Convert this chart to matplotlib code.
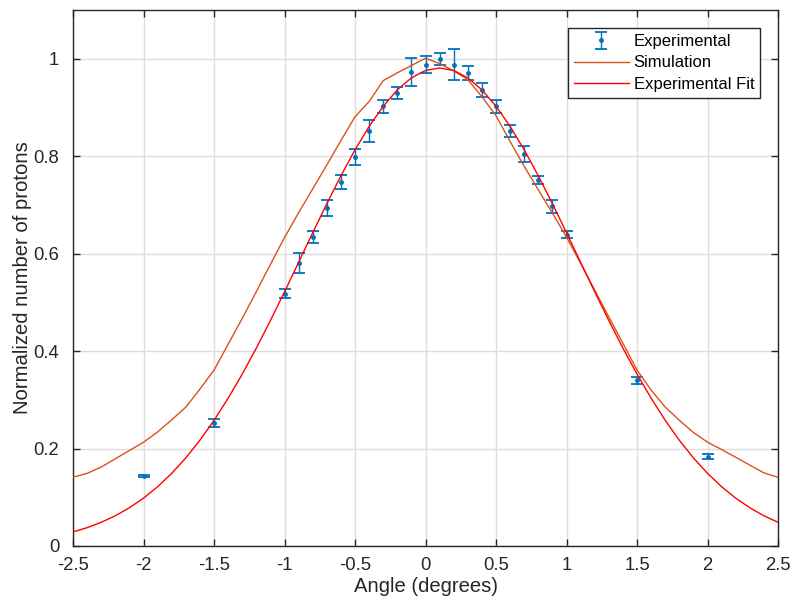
import numpy as np
import matplotlib
matplotlib.use("Agg")
import matplotlib.pyplot as plt

plt.rcParams["font.family"] = ["Liberation Sans", "DejaVu Sans"]
plt.rcParams["axes.unicode_minus"] = False

# Measured proton counts (normalized) with uncertainties
exp_angle = [-2.0, -1.5, -1.0, -0.9, -0.8, -0.7, -0.6, -0.5, -0.4, -0.3, -0.2, -0.1,
             0.0, 0.1, 0.2, 0.3, 0.4, 0.5, 0.6, 0.7, 0.8, 0.9, 1.0, 1.5, 2.0]
exp_counts = [0.143, 0.252, 0.518, 0.581, 0.634, 0.693, 0.747, 0.798, 0.852, 0.902,
              0.930, 0.972, 0.988, 1.000, 0.988, 0.971, 0.936, 0.902, 0.852, 0.804,
              0.751, 0.697, 0.639, 0.340, 0.183]
exp_error = [0.002, 0.008, 0.010, 0.021, 0.012, 0.016, 0.015, 0.017, 0.022, 0.014,
             0.012, 0.029, 0.017, 0.012, 0.032, 0.015, 0.014, 0.013, 0.012, 0.016,
             0.008, 0.013, 0.0075, 0.007, 0.005]

# Angle grid shared by the simulation and the fitted curve
curve_angle = np.linspace(-2.5, 2.5, 51)

sim_counts = [0.141, 0.149, 0.162, 0.179, 0.196, 0.213, 0.234, 0.259, 0.285, 0.322,
              0.361, 0.414, 0.467, 0.522, 0.578, 0.633, 0.684, 0.733, 0.782, 0.832,
              0.881, 0.912, 0.955, 0.971, 0.986, 1.001, 0.990, 0.975, 0.957, 0.922,
              0.883, 0.830, 0.779, 0.731, 0.683, 0.634, 0.580, 0.525, 0.470, 0.416,
              0.361, 0.320, 0.285, 0.258, 0.233, 0.213, 0.198, 0.182, 0.166, 0.150,
              0.141]

fit_counts = [0.0288, 0.0376, 0.0486, 0.0620, 0.0785, 0.0982, 0.1216, 0.1491, 0.1808,
              0.2171, 0.2579, 0.3032, 0.3527, 0.4061, 0.4627, 0.5217, 0.5821, 0.6428,
              0.7024, 0.7597, 0.8130, 0.8610, 0.9024, 0.9360, 0.9607, 0.9759, 0.9810,
              0.9759, 0.9607, 0.9360, 0.9024, 0.8610, 0.8130, 0.7597, 0.7024, 0.6428,
              0.5821, 0.5217, 0.4627, 0.4061, 0.3527, 0.3032, 0.2579, 0.2171, 0.1808,
              0.1491, 0.1216, 0.0982, 0.0785, 0.0620, 0.0486]

x_ticks = [-2.5, -2, -1.5, -1, -0.5, 0, 0.5, 1, 1.5, 2, 2.5]
x_tick_labels = ["-2.5", "-2", "-1.5", "-1", "-0.5", "0", "0.5", "1", "1.5", "2", "2.5"]
y_ticks = [0, 0.2, 0.4, 0.6, 0.8, 1.0]
y_tick_labels = ["0", "0.2", "0.4", "0.6", "0.8", "1"]

BLUE = "#0072BD"
ORANGE = "#D95319"
RED = "#FF0000"
DARK = "#262626"

fig = plt.figure(figsize=(7.93, 6.08), dpi=100)
ax = fig.add_axes([0.0921, 0.102, 0.889, 0.8816])

h_exp = ax.errorbar(exp_angle, exp_counts, yerr=exp_error, fmt=".", color=BLUE,
                    markersize=5, elinewidth=1.0, capsize=4.3, capthick=1.3,
                    label="Experimental", zorder=3)
h_sim, = ax.plot(curve_angle, sim_counts, color=ORANGE, linewidth=1.0,
                 label="Simulation", zorder=4)
h_fit, = ax.plot(curve_angle, fit_counts, color=RED, linewidth=1.0,
                 label="Experimental Fit", zorder=5)

ax.set_xlim(-2.5, 2.5)
ax.set_ylim(0, 1.1)
ax.set_xticks(x_ticks)
ax.set_xticklabels(x_tick_labels)
ax.set_yticks(y_ticks)
ax.set_yticklabels(y_tick_labels)

ax.grid(True, color="#dedede", linewidth=1.0)
ax.set_axisbelow(True)

for sp in ax.spines.values():
    sp.set_color(DARK)
    sp.set_linewidth(1.0)

ax.tick_params(axis="both", which="major", direction="in", length=5, width=1.0,
               color=DARK, labelcolor=DARK, labelsize=13.3,
               top=True, right=True)
ax.tick_params(axis="x", pad=8)
ax.tick_params(axis="y", pad=10)

ax.set_xlabel("Angle (degrees)", fontsize=14.6, color=DARK, labelpad=2)
ax.set_ylabel("Normalized number of protons", fontsize=14.6, color=DARK, labelpad=1)

leg = ax.legend([h_exp, h_sim, h_fit], ["Experimental", "Simulation", "Experimental Fit"],
                loc="upper right", bbox_to_anchor=(0.9745, 0.966),
                borderaxespad=0, fontsize=12, frameon=True, fancybox=False,
                framealpha=1, edgecolor=DARK, handlelength=3.3,
                handletextpad=0.3, labelspacing=0.38, borderpad=0.35)
leg.get_frame().set_linewidth(1.0)
for t in leg.get_texts():
    t.set_color("black")

fig.savefig("out.png", dpi=100)
